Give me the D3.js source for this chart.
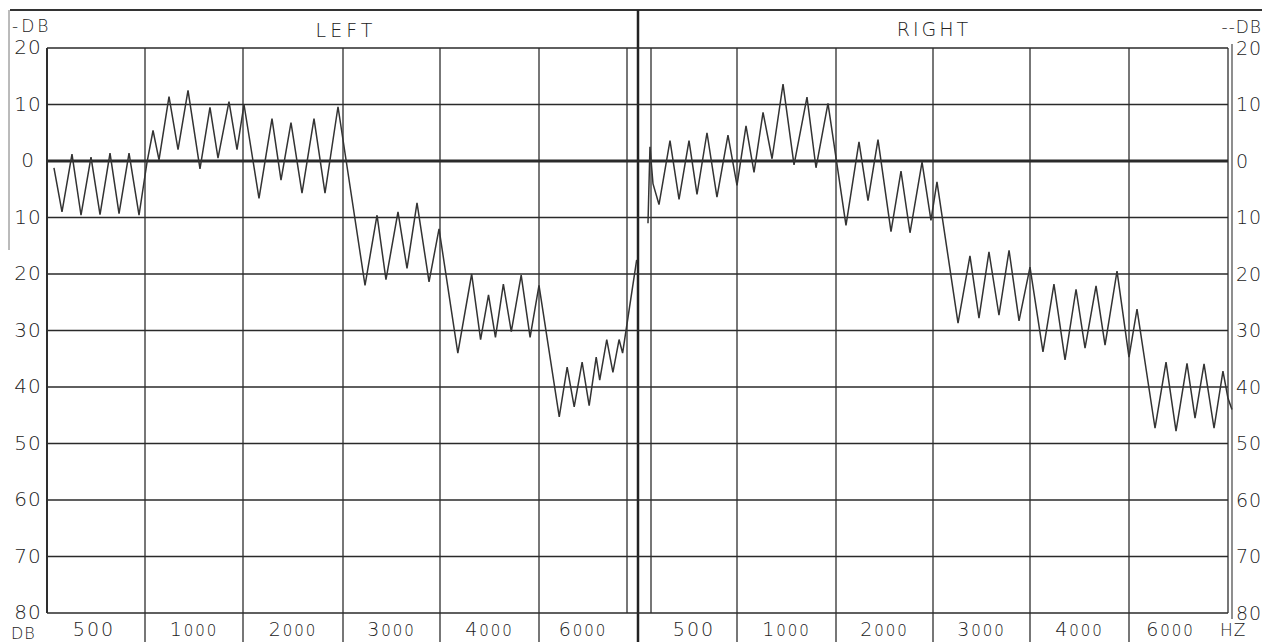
<!DOCTYPE html>
<html>
<head>
<meta charset="utf-8">
<script src="https://cdn.jsdelivr.net/npm/d3@7"></script>
<style>
  body { margin: 0; background: #fff; }
  svg text { font-family: "DejaVu Sans", sans-serif; font-weight: 200; fill: #222; }
</style>
</head>
<body>
<div id="chart"></div>
<script>
// dB hearing level ticks (top of chart is -20)
const dbTicks = [-20, -10, 0, 10, 20, 30, 40, 50, 60, 70, 80];
const freqLabels = ["500", "1000", "2000", "3000", "4000", "6000"];

// Bekesy tracing, x = position in frequency slots (0..6), y = dB
const leftTrace = [
  [0.071, 1.2], [0.153, 9], [0.255, -1.2], [0.347, 9.6], [0.449, -0.7], [0.541, 9.5],
  [0.643, -1.4], [0.735, 9.3], [0.837, -1.4], [0.939, 9.6], [1.02, 0.3], [1.082, -5.4],
  [1.143, -0.2], [1.245, -11.4], [1.337, -2], [1.439, -12.5], [1.561, 1.4], [1.663, -9.5],
  [1.745, -0.5], [1.857, -10.5], [1.939, -2], [2.01, -10], [2.16, 6.6], [2.29, -7.5],
  [2.38, 3.4], [2.48, -6.8], [2.59, 5.7], [2.71, -7.5], [2.82, 5.7], [2.95, -9.6],
  [3.227, 22], [3.351, 9.6], [3.443, 21], [3.567, 9], [3.66, 19], [3.763, 7.4],
  [3.887, 21.4], [3.99, 12], [4.18, 34], [4.32, 20], [4.41, 31.6], [4.49, 23.7],
  [4.56, 31.2], [4.64, 21.8], [4.72, 30.2], [4.82, 20.2], [4.91, 31.2], [5.0, 22],
  [5.23, 45.3], [5.32, 36.5], [5.40, 43.5], [5.49, 35.6], [5.57, 43.3], [5.65, 34.7],
  [5.69, 38.8], [5.77, 31.6], [5.84, 37.4], [5.91, 31.6], [5.95, 34], [6.11, 17.5]
];

const rightTrace = [
  [-0.035, 11], [-0.012, -2.5], [0.023, 4], [0.093, 7.7], [0.221, -3.6], [0.326, 6.8],
  [0.442, -3.6], [0.535, 5.9], [0.651, -5], [0.767, 6.4], [0.895, -4.6], [1.0, 4.3],
  [1.091, -6.2], [1.172, 2], [1.263, -8.6], [1.354, -0.4], [1.465, -13.6], [1.576, 0.7],
  [1.707, -11.3], [1.798, 1.2], [1.919, -10.2], [2.103, 11.4], [2.237, -3.4], [2.33, 7],
  [2.433, -3.8], [2.567, 12.5], [2.67, 1.8], [2.763, 12.7], [2.887, 0.2], [2.979, 10.5],
  [3.041, 3.7], [3.258, 28.7], [3.381, 16.8], [3.474, 27.8], [3.577, 16.1], [3.68, 27.3],
  [3.784, 15.8], [3.887, 28.3], [4.0, 18.8], [4.131, 33.8], [4.242, 21.8], [4.354, 35.2],
  [4.465, 22.7], [4.556, 33.1], [4.667, 22.1], [4.758, 32.6], [4.879, 19.5], [5.0, 34.7],
  [5.081, 26.2], [5.263, 47.3], [5.374, 35.6], [5.475, 47.8], [5.586, 35.8], [5.667, 45.5],
  [5.758, 35.9], [5.859, 47.3], [5.949, 37.2], [6.0, 42], [6.04, 44]
];

const W = 1267, H = 642;

const svg = d3.select("#chart")
  .append("svg")
    .attr("width", W)
    .attr("height", H);

// scales - the frequency slots are not all the same width on the chart paper
const y = d3.scaleLinear().domain([-20, 80]).range([48, 613]);
const xL = d3.scaleLinear().domain([0, 1, 2, 3, 4, 5, 6]).range([47, 145, 243, 343, 440, 539, 627]);
const xR = d3.scaleLinear().domain([0, 1, 2, 3, 4, 5, 6]).range([651, 737, 836, 933, 1030, 1129, 1228]);

// top border and panel divider
svg.append("line")
  .attr("x1", 10).attr("x2", 1262).attr("y1", 10).attr("y2", 10)
  .attr("stroke", "#333").attr("stroke-width", 2);
svg.append("line")
  .attr("x1", 9).attr("x2", 9).attr("y1", 10).attr("y2", 250)
  .attr("stroke", "#777").attr("stroke-width", 1);
svg.append("line")
  .attr("x1", 638).attr("x2", 638).attr("y1", 10).attr("y2", H)
  .attr("stroke", "#222").attr("stroke-width", 2.5);

// horizontal gridlines across both panels
svg.append("g")
  .selectAll("line")
  .data(dbTicks)
  .join("line")
    .attr("x1", xL(0)).attr("x2", xR(6))
    .attr("y1", d => y(d)).attr("y2", d => y(d))
    .attr("stroke", "#2a2a2a")
    .attr("stroke-width", d => d === 0 ? 3 : 1.6);

// vertical gridlines for each panel
[xL, xR].forEach(function(x) {
  svg.append("g")
    .selectAll("line")
    .data(d3.range(0, 7))
    .join("line")
      .attr("x1", d => x(d)).attr("x2", d => x(d))
      .attr("y1", y(-20))
      .attr("y2", d => (d === 0 || d === 6) ? y(80) : H)
      .attr("stroke", "#2e2e2e")
      .attr("stroke-width", d => (x === xL && d === 0) ? 2 : 1.3);
});
// double line on the right axis
svg.append("line")
  .attr("x1", xR(6) + 4).attr("x2", xR(6) + 4).attr("y1", y(-20) - 4).attr("y2", y(80) + 6)
  .attr("stroke", "#444").attr("stroke-width", 1.2);

// y axes (labels only)
const yLeft = svg.append("g")
  .attr("transform", `translate(${xL(0)},0)`)
  .call(d3.axisLeft(y).tickValues(dbTicks).tickSize(0).tickFormat(d => Math.abs(d)));
yLeft.select(".domain").remove();
yLeft.selectAll("text")
  .attr("x", -19)
  .attr("dy", "0.28em")
  .style("text-anchor", "middle")
  .style("font-size", "20px")
  .style("letter-spacing", "1px");

const yRight = svg.append("g")
  .attr("transform", `translate(${xR(6)},0)`)
  .call(d3.axisRight(y).tickValues(dbTicks).tickSize(0).tickFormat(d => Math.abs(d)));
yRight.select(".domain").remove();
yRight.selectAll("text")
  .attr("x", 8)
  .style("text-anchor", "start")
  .style("font-size", "19px")
  .style("letter-spacing", "1px");

// frequency labels under each panel, thousands drawn with small zeros
function freqRow(x, shift) {
  const t = svg.append("g")
    .selectAll("text")
    .data(freqLabels)
    .join("text")
      .attr("x", (d, i) => x(i + 0.5) + (shift[i] || 0))
      .attr("y", 636)
      .style("text-anchor", "middle")
      .style("font-size", "19px")
      .style("letter-spacing", "2px");
  t.each(function(d) {
    const el = d3.select(this);
    if (d.length < 4) {
      el.text(d);
    } else {
      el.append("tspan").text(d.slice(0, 1));
      el.append("tspan").style("font-size", "15px").text(d.slice(1));
    }
  });
}
freqRow(xL, [-2, 0, 0, 0, 0, 0]);
freqRow(xR, [0, 0, 0, 0, 0, -8]);

svg.append("text")
  .attr("x", 1220).attr("y", 636)
  .style("font-size", "17px").style("letter-spacing", "1px")
  .text("HZ");
svg.append("text")
  .attr("x", 11).attr("y", 639)
  .style("font-size", "16px").style("letter-spacing", "1px")
  .text("DB");

// titles
svg.append("text")
  .attr("x", 12).attr("y", 32)
  .style("font-size", "17px").style("letter-spacing", "3px")
  .text("-DB");
svg.append("text")
  .attr("x", 1262).attr("y", 33)
  .style("text-anchor", "end")
  .style("font-size", "17px").style("letter-spacing", "1px")
  .text("--DB");
svg.append("text")
  .attr("x", 346).attr("y", 37)
  .style("text-anchor", "middle")
  .style("font-size", "19px").style("letter-spacing", "4px")
  .text("LEFT");
svg.append("text")
  .attr("x", 934).attr("y", 36)
  .style("text-anchor", "middle")
  .style("font-size", "19px").style("letter-spacing", "3px")
  .text("RIGHT");

// the tracings
const lineL = d3.line().x(d => xL(d[0])).y(d => y(d[1]));
const lineR = d3.line().x(d => xR(d[0])).y(d => y(d[1]));

svg.append("path")
  .datum(leftTrace)
  .attr("d", lineL)
  .attr("fill", "none")
  .attr("stroke", "#333")
  .attr("stroke-width", 1.5)
  .attr("stroke-linejoin", "miter");

svg.append("path")
  .datum(rightTrace)
  .attr("d", lineR)
  .attr("fill", "none")
  .attr("stroke", "#333")
  .attr("stroke-width", 1.5)
  .attr("stroke-linejoin", "miter");
</script>
</body>
</html>
